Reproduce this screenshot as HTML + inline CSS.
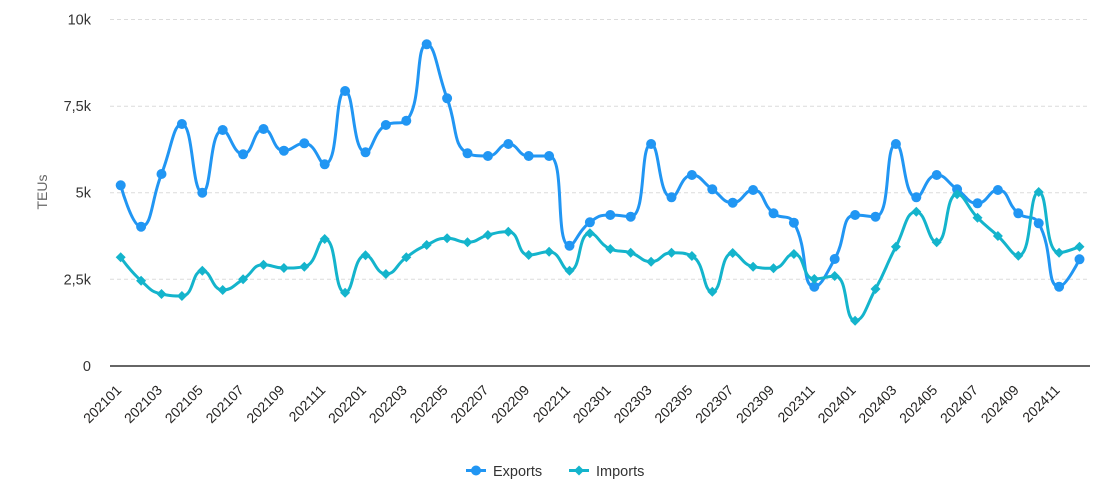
<!DOCTYPE html>
<html>
<head>
<meta charset="utf-8">
<style>
  html, body { margin: 0; padding: 0; background: #ffffff; }
  body { width: 1108px; height: 496px; overflow: hidden; }
  svg { display: block; font-family: "Liberation Sans", "DejaVu Sans", sans-serif; }
</style>
</head>
<body>
<svg id="chart" width="1108" height="496" viewBox="0 0 1108 496" xmlns="http://www.w3.org/2000/svg">
  <rect x="0" y="0" width="1108" height="496" fill="#ffffff"/>
  <!-- grid lines -->
  <g stroke="#dcdcdc" stroke-width="1" stroke-dasharray="4,3">
    <line x1="110" y1="19.5" x2="1090" y2="19.5"/>
    <line x1="110" y1="106.2" x2="1090" y2="106.2"/>
    <line x1="110" y1="192.7" x2="1090" y2="192.7"/>
    <line x1="110" y1="279.3" x2="1090" y2="279.3"/>
  </g>
  <line x1="110" y1="366" x2="1090" y2="366" stroke="#333333" stroke-width="1.5"/>
  <!-- y labels -->
  <g fill="#333333" font-size="14.5" text-anchor="end">
    <text x="91" y="24.5">10k</text>
    <text x="91" y="111.2">7,5k</text>
    <text x="91" y="197.7">5k</text>
    <text x="91" y="284.3">2,5k</text>
    <text x="91" y="371">0</text>
  </g>
  <text x="0" y="0" fill="#666666" font-size="14" text-anchor="middle" transform="translate(47,192) rotate(-90)">TEUs</text>
  <g id="xlabels" fill="#252423" font-size="14" text-anchor="end"></g>
  <g id="series"></g>
  <!-- legend -->
  <g>
    <line x1="466" y1="470.5" x2="486" y2="470.5" stroke="#2196F3" stroke-width="3"/>
    <circle cx="476" cy="470.5" r="5" fill="#2196F3"/>
    <text x="493" y="476" fill="#333333" font-size="14.5">Exports</text>
    <line x1="569" y1="470.5" x2="589" y2="470.5" stroke="#14B4CC" stroke-width="3"/>
    <polygon points="579,465.5 584,470.5 579,475.5 574,470.5" fill="#14B4CC"/>
    <text x="596" y="476" fill="#333333" font-size="14.5">Imports</text>
  </g>
</svg>
<script>
(function(){
  var NS = "http://www.w3.org/2000/svg";
  var x0 = 120.7, dx = 20.4;
  var exp = [185.3,226.7,174,124,192.7,130,154.3,129,150.7,143.3,164.3,91,
             152.3,125,120.7,44.3,98.3,153.3,156,144,156,156,245.7,222.3,
             215,216.7,144,197.3,175,189.3,202.7,190,213.3,222.7,286.7,259,
             215,216.7,144,197.3,175,189.3,203.3,190,213.3,223.3,286.7,259.3];
  var imp = [257.3,280.7,294,296,270.7,290,279.3,264.7,268,266.7,239,292.7,
             255.3,274,257.3,245,238.3,242.3,235,231.7,255,251.7,270.7,233.3,
             249,252.7,261.7,252.7,256,291.7,253,266.7,268.3,254,279,276,
             320.7,289,246.7,211.7,242.3,194.3,217.7,236,255.7,192,252.7,246.7];

  function smoothPath(ys, smooth){
    var pts = ys.map(function(y,i){ return [x0 + i*dx, y]; });
    var d = "M" + pts[0][0].toFixed(2) + "," + pts[0][1].toFixed(2);
    var cpx0 = pts[0][0], cpy0 = pts[0][1];
    for (var i = 1; i < pts.length; i++){
      var x = pts[i][0], y = pts[i][1];
      var prevX = pts[i-1][0], prevY = pts[i-1][1];
      var cpx1, cpy1, nextCpx0, nextCpy0;
      if (i === pts.length - 1){
        cpx1 = x; cpy1 = y; nextCpx0 = x; nextCpy0 = y;
      } else {
        var nextX = pts[i+1][0], nextY = pts[i+1][1];
        var vx = nextX - prevX, vy = nextY - prevY;
        var dx0 = x - prevX, dx1 = nextX - x, dy0 = y - prevY, dy1 = nextY - y;
        var lenPrev = Math.sqrt(dx0*dx0 + dy0*dy0);
        var lenNext = Math.sqrt(dx1*dx1 + dy1*dy1);
        var ratio = lenNext / (lenNext + lenPrev);
        nextCpx0 = x + vx * smooth * ratio;
        nextCpy0 = y + vy * smooth * ratio;
        nextCpx0 = Math.min(nextCpx0, Math.max(nextX, x));
        nextCpy0 = Math.min(nextCpy0, Math.max(nextY, y));
        nextCpx0 = Math.max(nextCpx0, Math.min(nextX, x));
        nextCpy0 = Math.max(nextCpy0, Math.min(nextY, y));
        vx = nextCpx0 - x; vy = nextCpy0 - y;
        cpx1 = x - vx * lenPrev / lenNext;
        cpy1 = y - vy * lenPrev / lenNext;
        cpx1 = Math.min(cpx1, Math.max(prevX, x));
        cpy1 = Math.min(cpy1, Math.max(prevY, y));
        cpx1 = Math.max(cpx1, Math.min(prevX, x));
        cpy1 = Math.max(cpy1, Math.min(prevY, y));
        vx = x - cpx1; vy = y - cpy1;
        nextCpx0 = x + vx * lenNext / lenPrev;
        nextCpy0 = y + vy * lenNext / lenPrev;
      }
      d += " C" + cpx0.toFixed(2) + "," + cpy0.toFixed(2) + " " +
           cpx1.toFixed(2) + "," + cpy1.toFixed(2) + " " +
           x.toFixed(2) + "," + y.toFixed(2);
      cpx0 = nextCpx0; cpy0 = nextCpy0;
    }
    return d;
  }

  var g = document.getElementById("series");
  function el(name, attrs){
    var e = document.createElementNS(NS, name);
    for (var k in attrs) e.setAttribute(k, attrs[k]);
    g.appendChild(e);
    return e;
  }
  function drawSeries(ys, color, marker){
    el("path", {d: smoothPath(ys, 0.5), fill: "none", stroke: color,
                "stroke-width": 3, "stroke-linejoin": "round", "stroke-linecap": "round"});
    ys.forEach(function(y, i){
      var x = x0 + i*dx;
      if (marker === "circle"){
        el("circle", {cx: x.toFixed(2), cy: y.toFixed(2), r: 5, fill: color});
      } else {
        var s = 5;
        el("polygon", {points: x+","+(y-s)+" "+(x+s)+","+y+" "+x+","+(y+s)+" "+(x-s)+","+y, fill: color});
      }
    });
  }
  drawSeries(exp, "#2196F3", "circle");
  drawSeries(imp, "#14B4CC", "diamond");

  var xl = document.getElementById("xlabels");
  var months = [];
  for (var yr = 2021; yr <= 2024; yr++)
    for (var m = 1; m <= 12; m++) months.push(yr + (m < 10 ? "0" : "") + m);
  for (var i = 0; i < months.length; i += 2){
    var tx = x0 + i*dx + 1.5, ty = 391;
    var t = document.createElementNS(NS, "text");
    t.setAttribute("x", 0); t.setAttribute("y", 0);
    t.setAttribute("transform", "translate(" + tx.toFixed(2) + "," + ty + ") rotate(-45)");
    t.textContent = months[i];
    xl.appendChild(t);
  }
})();
</script>
</body>
</html>
